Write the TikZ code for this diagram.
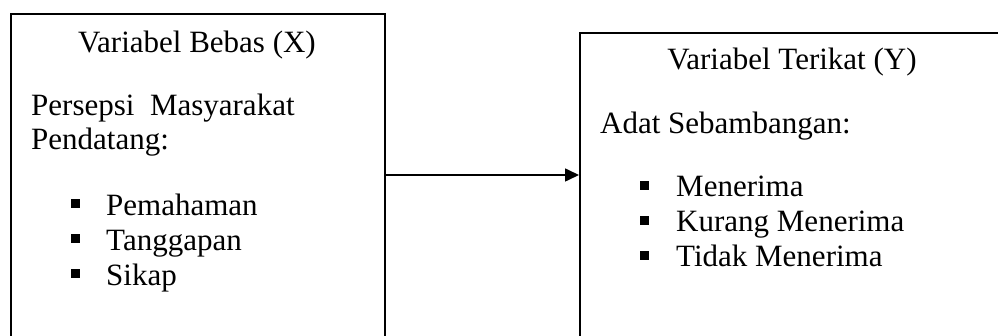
\documentclass[tikz,border=0pt]{standalone}
\usepackage{fontspec}
\setmainfont{Liberation Serif}
\usetikzlibrary{arrows.meta}
\begin{document}
\begin{tikzpicture}[x=1pt,y=-1pt,
  boxline/.style={draw=black,line width=1.6pt},
  txt/.style={inner sep=0pt,anchor=base west,font=\fontsize{31}{35}\selectfont},
  head/.style={inner sep=0pt,anchor=base,font=\fontsize{31}{35}\selectfont},
  bul/.style={fill=black,inner sep=0pt,minimum size=8.5pt,anchor=south west},
  conn/.style={line width=1.6pt,-{Triangle[length=14pt,width=13pt]}}]
\useasboundingbox (0,0) rectangle (998,336);
\clip (0,0) rectangle (998,336);
\fill[white] (0,0) rectangle (998,336);
% boxes
\node[boxline,minimum width=374pt,minimum height=350pt,anchor=north west,inner sep=0pt] (lbox) at (10,13) {};
\node[boxline,minimum width=426pt,minimum height=350pt,anchor=north west,inner sep=0pt] (rbox) at (579,32) {};
% left texts
\node[head] (lhead) at (197,53) {Variabel Bebas (X)};
\node[txt] (l1) at (31,116) {Persepsi\ \ Masyarakat};
\node[txt] (l2) at (31,150) {Pendatang:};
\node[bul] (lb1) at (71,208) {};
\node[txt] (li1) at (106,216) {Pemahaman};
\node[bul] (lb2) at (71,243) {};
\node[txt] (li2) at (106,251) {Tanggapan};
\node[bul] (lb3) at (71,278) {};
\node[txt] (li3) at (106,286) {Sikap};
% right texts
\node[head] (rhead) at (792,70) {Variabel Terikat (Y)};
\node[txt] (r1) at (600,134) {Adat Sebambangan:};
\node[bul] (rb1) at (640,190) {};
\node[txt] (ri1) at (676,197) {Menerima};
\node[bul] (rb2) at (640,225) {};
\node[txt] (ri2) at (676,232) {Kurang Menerima};
\node[bul] (rb3) at (640,260) {};
\node[txt] (ri3) at (676,267) {Tidak Menerima};
% connector
\coordinate (ay) at (480,175);
\draw[conn] (lbox.east |- ay) -- (rbox.west |- ay);
\end{tikzpicture}
\end{document}
